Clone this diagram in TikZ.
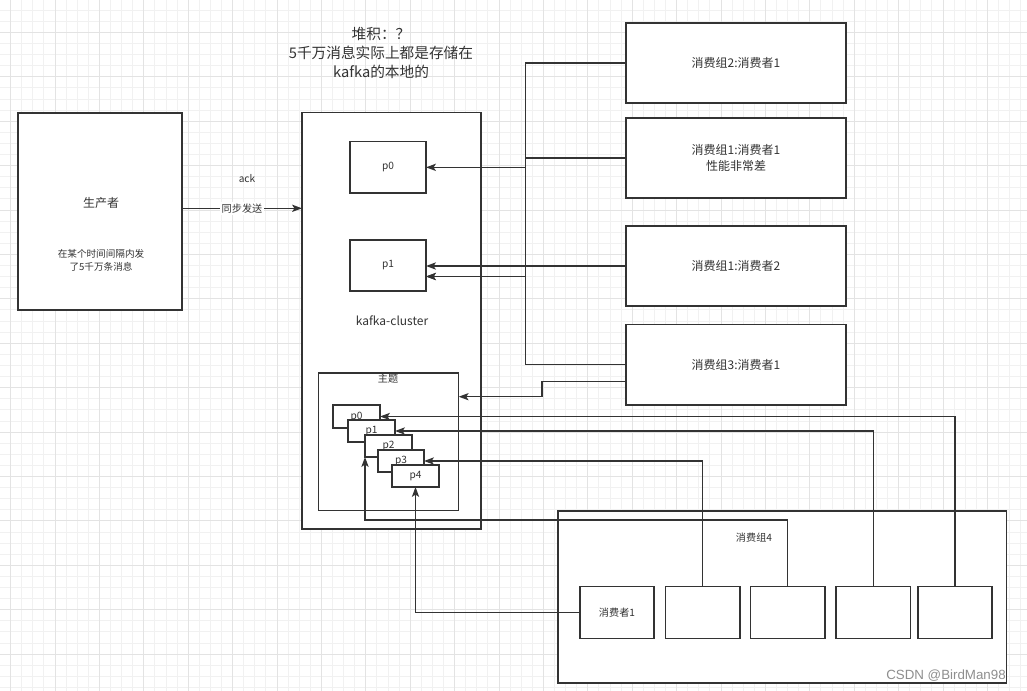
\documentclass[tikz,border=0pt]{standalone}
\usepackage{fontspec}
\setmainfont{Noto Sans CJK SC}
\newfontfamily\wmfont{Liberation Sans}
\usetikzlibrary{arrows.meta,calc}
\definecolor{ink}{HTML}{333333}
\definecolor{gmin}{HTML}{F1F1F1}
\definecolor{gmaj}{HTML}{E3E3E3}
\definecolor{wm}{HTML}{8E8E8E}
\newcommand\fzTitle{\fontsize{11}{14}\selectfont}
\newcommand\fzMid{\fontsize{9}{11.5}\selectfont}
\newcommand\fzSmall{\fontsize{7.6}{9.5}\selectfont}
\newcommand\fzXs{\fontsize{7.2}{9.5}\selectfont}
\tikzset{
 boxst/.style={draw=ink, line width=1.1pt, fill=white, inner sep=0pt, outer sep=0pt, align=center, text=ink},
 conn/.style={draw=ink, line width=1pt},
 arr/.style={conn, -{Stealth[length=7.4pt,width=5.4pt,inset=1.7pt]}},
 lbl/.style={text=ink, inner sep=0pt, align=center},
 gridminor/.style={draw=gmin, line width=0.75pt},
 gridmajor/.style={draw=gmaj, line width=0.75pt},
}
\newcommand\rbox[7][]{\node[boxst,minimum width={(#5-#3)*0.75pt},minimum height={(#6-#4)*0.75pt},#1] (#2) at ({(#3+#5)/2},{(#4+#6)/2}) {#7};}
\begin{document}
\begin{tikzpicture}[x=0.75pt,y=-0.75pt]
\useasboundingbox (0,0) rectangle (1027,691);
\fill[white] (0,0) rectangle (1027,691);
\begin{scope}
\clip (0,0) rectangle (1027,691);
\foreach \k in {0,...,92} \draw[gridminor] ({10.6+11.1*\k},0) -- ({10.6+11.1*\k},691);
\foreach \k in {0,...,61} \draw[gridminor] (0,{10.3+11.1*\k}) -- (1027,{10.3+11.1*\k});
\foreach \k in {0,...,23} \draw[gridmajor] ({10.6+44.4*\k},0) -- ({10.6+44.4*\k},691);
\foreach \k in {0,...,14} \draw[gridmajor] (0,{32.5+44.4*\k}) -- (1027,{32.5+44.4*\k});
\end{scope}
% boxes
\rbox{prod}{18}{113}{182}{310}{}
\rbox{kafka}{302}{112.5}{481}{529}{}
\rbox[font=\fzSmall]{kp0}{350}{141.7}{426}{193}{p0}
\rbox[font=\fzSmall]{kp1}{350}{240}{426}{291}{p1}
\rbox{topic}{318.7}{373}{458.7}{510.7}{}
\rbox[font=\fzSmall]{tp0}{333}{405}{380}{428}{p0}
\rbox[font=\fzSmall]{tp1}{348}{420}{395}{442}{p1}
\rbox[font=\fzSmall]{tp2}{365}{435}{412}{457}{p2}
\rbox[font=\fzSmall]{tp3}{378}{450}{424}{472}{p3}
\rbox[font=\fzSmall]{tp4}{392}{465}{439}{487}{p4}
\rbox[font=\fzMid]{c21}{626}{23}{846}{103}{消费组2:消费者1}
\rbox[font=\fzMid]{c11}{626}{118}{846}{198}{消费组1:消费者1\\性能非常差}
\rbox[font=\fzMid]{c12}{626}{226}{846}{306}{消费组1:消费者2}
\rbox[font=\fzMid]{c31}{626}{324.5}{846}{405}{消费组3:消费者1}
\rbox{grp4}{558}{511}{1006.7}{683}{}
\rbox[font=\fzSmall]{g1}{580}{586.7}{654}{638.3}{消费者1}
\rbox{g2}{665.6}{586.7}{740}{638.3}{}
\rbox{g3}{750.6}{586.7}{825}{638.3}{}
\rbox{g4}{836}{586.7}{910.7}{638.3}{}
\rbox{g5}{917.8}{586.7}{992}{638.3}{}
% texts
\node[lbl,font=\fzTitle] (title) at (381,53) {堆积：？\\5千万消息实际上都是存储在\\kafka的本地的};
\node[lbl,font=\fzMid] (prodlbl) at (101,203) {生产者};
\node[lbl,font=\fzXs] (prodnote) at (101,260.5) {在某个时间间隔内发\\了5千万条消息};
\node[lbl,font=\fzMid] (kclbl) at (392,321) {kafka-cluster};
\node[lbl,font=\fzSmall] (topiclbl) at (388,379) {主题};
\node[lbl,font=\fzSmall] (g4lbl) at (754,538) {消费组4};
\node[lbl,font=\fzSmall] (acklbl) at (247,179) {ack};
% helper coordinates
\coordinate (bus) at (525.5,0);
\coordinate (jog) at (542,0);
\coordinate (low) at (0,520);
\coordinate (pa) at ($(prod.east)+(0,-3.2)$);
\coordinate (p1b) at ($(kp1.east)+(0,11)$);
\coordinate (c31b) at ($(c31.west)+(0,17)$);
\coordinate (topicin) at ($(topic.north east)+(0,23.7)$);
% connectors
\draw[arr] (pa) -- node[lbl,fill=white,inner sep=1.5pt,font=\fzSmall] (synclbl) {同步发送} (pa -| kafka.west);
\draw[arr] (c21.west) -- (c21.west -| bus) |- (kp0.east);
\draw[arr] (c11.west) -- (c11.west -| bus) |- (p1b);
\draw[arr] (c12.west) -- (c12.west -| kp1.east);
\draw[arr] (c31.west) -- (c31.west -| bus) |- (p1b);
\draw[arr] (c31b) -- (c31b -| jog) |- (topicin);
\draw[arr] (g1.west) -| (tp4.south);
\draw[arr] (g2.north) |- (tp3.east);
\draw[arr] (g3.north) -- (g3.north |- low) -| (tp2.south west);
\draw[arr] (g4.north) |- (tp1.east);
\draw[arr] (g5.north) |- (tp0.east);
% watermark
\node[font=\wmfont\fontsize{10}{12}\selectfont, text=wm, inner sep=0pt] (wmark) at (946,676) {CSDN @BirdMan98};
\end{tikzpicture}
\end{document}
